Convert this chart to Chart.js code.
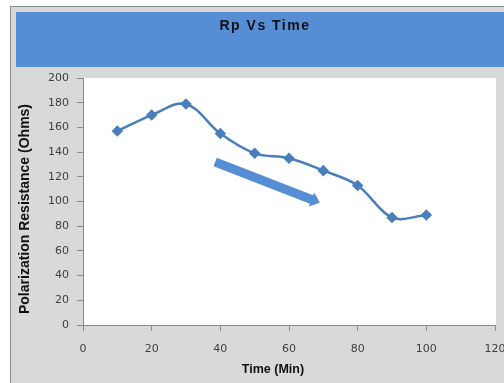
<!DOCTYPE html>
<html>
<head>
<meta charset="utf-8">
<script src="https://cdn.jsdelivr.net/npm/chart.js@4/dist/chart.umd.min.js"></script>
<style>
  html, body { margin: 0; padding: 0; background: #fff; }
  #wrap { width: 504px; height: 383px; }
</style>
</head>
<body>
<div id="wrap"><canvas id="rpChart" width="504" height="383"></canvas></div>
<script>
// --- données ---
const timeMin = [10, 20, 30, 40, 50, 60, 70, 80, 90, 100];
const rpOhms = [157, 170, 179, 155, 139, 135, 125, 113, 87, 89];
const chartTitle = 'Rp Vs Time';
const xTitle = 'Time (Min)';
const yTitle = 'Polarization Resistance (Ohms)';
// flèche de tendance (en coordonnées de données)
const arrowFrom = [38.5, 132];
const arrowTo = [69, 99];

const blue = '#4a7ebb';
const sansBold = '"Liberation Sans", Arial, sans-serif';

// fond, bandeau bleu, titre et titres d'axes (placés comme dans Excel)
const backdrop = {
    id: 'backdrop',
    beforeDraw(chart) {
        const ctx = chart.ctx;
        const a = chart.chartArea;
        ctx.save();
        ctx.fillStyle = '#ffffff';
        ctx.fillRect(0, 0, chart.width, chart.height);
        ctx.fillStyle = '#8a8a8a';
        ctx.fillRect(10, 6, chart.width - 10, 1);
        ctx.fillRect(10, 6, 1, chart.height - 6);
        ctx.fillStyle = '#d9d9d9';
        ctx.fillRect(11, 7, chart.width - 11, chart.height - 7);
        ctx.fillStyle = '#558ed5';
        ctx.fillRect(16, 12, chart.width - 16, 55);
        ctx.fillStyle = '#ffffff';
        ctx.fillRect(a.left, a.top, a.right - a.left + 1, a.bottom - a.top);

        ctx.fillStyle = '#111';
        ctx.textAlign = 'center';
        ctx.textBaseline = 'middle';
        ctx.font = 'bold 14px ' + sansBold;
        ctx.letterSpacing = '1.5px';
        ctx.fillText(chartTitle, 265, 26);
        ctx.letterSpacing = '0px';
        ctx.font = 'bold 12.5px ' + sansBold;
        ctx.fillText(xTitle, 273, 370);
        ctx.translate(25, 209);
        ctx.rotate(-Math.PI / 2);
        ctx.font = 'bold 14px ' + sansBold;
        ctx.fillText(yTitle, 0, 0);
        ctx.restore();
    }
};

// flèche épaisse
const trendArrow = {
    id: 'trendArrow',
    afterDatasetsDraw(chart) {
        const xs = chart.scales.x, ys = chart.scales.y;
        const x1 = xs.getPixelForValue(arrowFrom[0]), y1 = ys.getPixelForValue(arrowFrom[1]);
        const x2 = xs.getPixelForValue(arrowTo[0]), y2 = ys.getPixelForValue(arrowTo[1]);
        const ang = Math.atan2(y2 - y1, x2 - x1);
        const len = Math.hypot(x2 - x1, y2 - y1);
        const ctx = chart.ctx;
        ctx.save();
        ctx.translate(x1, y1);
        ctx.rotate(ang);
        ctx.fillStyle = '#558ed5';
        const half = 4.5, headHalf = 7.5, headLen = 9;
        ctx.beginPath();
        ctx.moveTo(0, -half);
        ctx.lineTo(len - headLen, -half);
        ctx.lineTo(len - headLen, -headHalf);
        ctx.lineTo(len, 0);
        ctx.lineTo(len - headLen, headHalf);
        ctx.lineTo(len - headLen, half);
        ctx.lineTo(0, half);
        ctx.closePath();
        ctx.fill();
        ctx.restore();
    }
};

const tickFont = { family: '"DejaVu Sans", sans-serif', size: 11 };

new Chart(document.getElementById('rpChart'), {
    type: 'line',
    data: {
        labels: timeMin,
        datasets: [{
            data: timeMin.map((t, i) => ({ x: t, y: rpOhms[i] })),
            borderColor: blue,
            backgroundColor: blue,
            borderWidth: 2.5,
            pointStyle: 'rectRot',
            pointRadius: 4,
            tension: 0.35,
            fill: false
        }]
    },
    options: {
        responsive: false,
        animation: false,
        layout: { padding: { left: 11, right: 9, top: 78, bottom: 6 } },
        plugins: {
            legend: { display: false },
            tooltip: { enabled: false }
        },
        scales: {
            x: {
                type: 'linear',
                min: 0, max: 120,
                afterFit: s => { s.height = 52; s.paddingLeft = 0; s.paddingRight = 0; },
                ticks: { stepSize: 20, color: '#404040', font: tickFont, padding: 12, maxRotation: 0 },
                grid: { drawOnChartArea: false, drawTicks: true, tickLength: 6, color: '#8a8a8a' },
                border: { color: '#8a8a8a' }
            },
            y: {
                min: 0, max: 200,
                afterFit: s => { s.width = 72; s.paddingTop = 0; s.paddingBottom = 0; },
                ticks: { stepSize: 20, color: '#404040', font: tickFont, padding: 8 },
                grid: { drawOnChartArea: false, drawTicks: true, tickLength: 6, color: '#8a8a8a' },
                border: { color: '#8a8a8a' }
            }
        }
    },
    plugins: [backdrop, trendArrow]
});
</script>
</body>
</html>
